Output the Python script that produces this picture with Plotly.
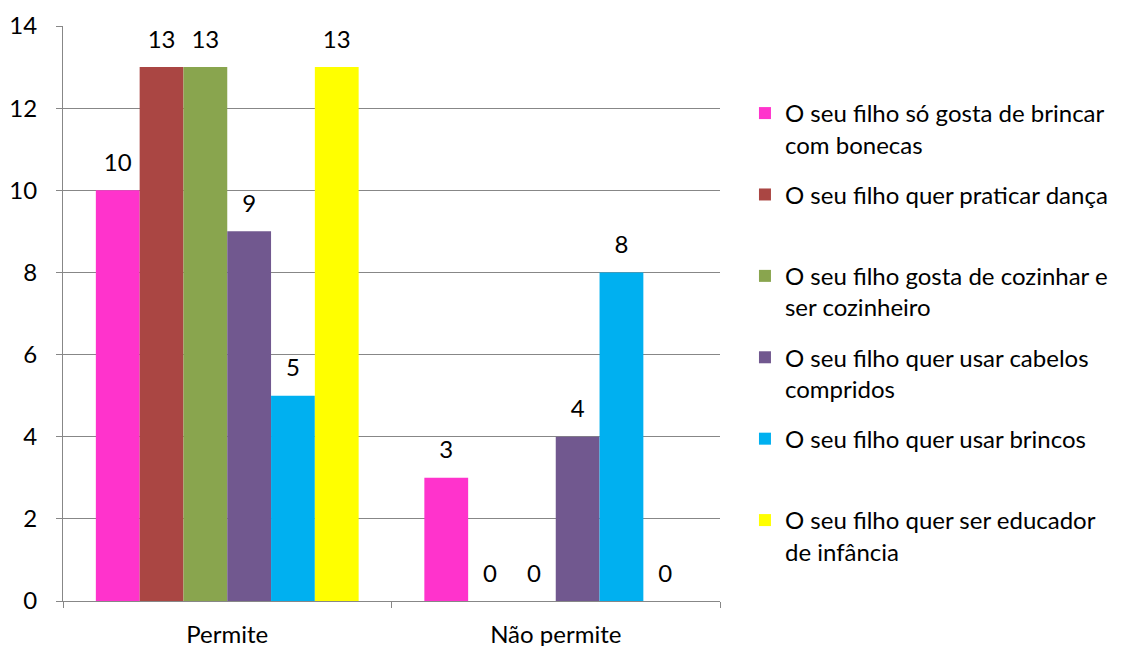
import plotly.graph_objects as go

categories = ["Permite", "Não permite"]
series_names = [
    "O seu filho só gosta de brincar<br>com bonecas",
    "O seu filho quer praticar dança<br>&nbsp;",
    "O seu filho gosta de cozinhar e<br>ser cozinheiro",
    "O seu filho quer usar cabelos<br>compridos",
    "O seu filho quer usar brincos<br>&nbsp;",
    "O seu filho quer ser educador<br>de infância",
]
series_values = [
    [10, 3],
    [13, 0],
    [13, 0],
    [9, 4],
    [5, 8],
    [13, 0],
]
colors = ["#FF33CC", "#AA4643", "#89A54E", "#71588F", "#00B0F0", "#FFFF00"]
y_ticks = [0, 2, 4, 6, 8, 10, 12, 14]

FONT = "Lato"
FS = 24

fig = go.Figure()
for i, (name, vals, col) in enumerate(zip(series_names, series_values, colors)):
    fig.add_trace(go.Bar(
        x=categories, y=vals, name=name, marker_color=col,
        marker_line_width=0, offsetgroup=f"g{i}",
        legendgroup=f"g{i}", hoverinfo="x+y",
    ))
for i, vals in enumerate(series_values):
    fig.add_trace(go.Scatter(
        x=categories, y=vals, mode="markers+text",
        text=[str(v) for v in vals], textposition="top center",
        textfont=dict(family=FONT, size=FS, color="black"),
        marker=dict(size=20, opacity=0),
        offsetgroup=f"g{i}", showlegend=False, cliponaxis=False,
        hoverinfo="skip",
    ))

fig.update_layout(
    width=1128, height=646,
    paper_bgcolor="white", plot_bgcolor="white",
    margin=dict(l=55, r=416, t=18, b=53, autoexpand=False),
    barmode="group", bargap=0.2, bargroupgap=0,
    scattermode="group", scattergap=0.2,
    font=dict(family=FONT, size=FS, color="black"),
    legend=dict(
        x=1.038, xanchor="left", y=0.887, yanchor="top",
        font=dict(family=FONT, size=FS, color="black"),
        tracegroupgap=16, valign="top",
        bgcolor="rgba(0,0,0,0)",
    ),
)
fig.update_yaxes(
    range=[0, 14], tickvals=y_ticks, ticktext=[str(t) for t in y_ticks],
    showgrid=True, gridcolor="#878787", gridwidth=1,
    showline=True, linecolor="#878787", linewidth=1,
    ticks="outside", ticklen=6, tickcolor="#878787",
    zeroline=False, tickfont=dict(family=FONT, size=FS),
    ticklabelstandoff=14, automargin=False,
)
fig.update_xaxes(
    showline=True, linecolor="#878787", linewidth=1,
    ticks="outside", tickson="boundaries", ticklen=6, tickcolor="#878787",
    tickfont=dict(family=FONT, size=FS), ticklabelstandoff=12,
    automargin=False,
)

fig.write_html("out.html")
